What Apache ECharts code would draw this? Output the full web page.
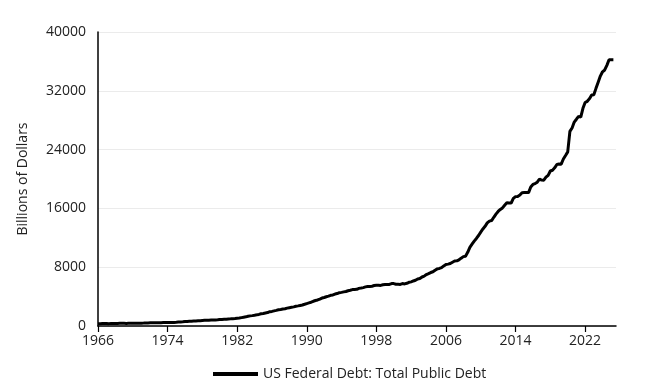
<!DOCTYPE html>
<html>
<head>
<meta charset="utf-8">
<script src="https://cdn.jsdelivr.net/npm/echarts@6/dist/echarts.min.js"></script>
<style>html,body{margin:0;padding:0;background:#fff}#c{width:650px;height:390px}</style>
</head>
<body>
<div id="c"></div>
<script>
// Quarterly data, first quarter 1966 Q1
const startYear = 1966;
const debt = [
  321, 317, 324, 329,
  330, 323, 334, 344,
  346, 347, 358, 359,
  358, 353, 361, 366,
  371, 370, 383, 389,
  391, 398, 413, 424,
  428, 427, 437, 449,
  458, 458, 465, 469,
  474, 475, 482, 492,
  509, 533, 554, 576,
  600, 620, 640, 653,
  675, 685, 709, 729,
  752, 772, 780, 797,
  816, 812, 827, 845,
  873, 884, 908, 930,
  964, 971, 998, 1029,
  1062, 1080, 1142, 1197,
  1245, 1319, 1377, 1411,
  1464, 1518, 1573, 1663,
  1710, 1774, 1823, 1946,
  1986, 2059, 2125, 2215,
  2250, 2310, 2351, 2432,
  2493, 2548, 2603, 2684,
  2740, 2800, 2857, 2953,
  3053, 3143, 3233, 3364,
  3465, 3538, 3665, 3801,
  3881, 3985, 4065, 4177,
  4230, 4352, 4411, 4535,
  4576, 4645, 4693, 4800,
  4864, 4951, 4974, 4989,
  5118, 5161, 5224, 5323,
  5381, 5376, 5413, 5503,
  5542, 5548, 5526, 5614,
  5651, 5639, 5656, 5776,
  5773, 5686, 5674, 5662,
  5773, 5727, 5807, 5943,
  6006, 6126, 6228, 6406,
  6460, 6670, 6783, 6998,
  7131, 7274, 7379, 7596,
  7776, 7836, 7933, 8170,
  8371, 8420, 8507, 8680,
  8849, 8867, 9008, 9229,
  9437, 9492, 10025, 10700,
  11127, 11545, 11910, 12311,
  12773, 13202, 13562, 14025,
  14270, 14343, 14790, 15223,
  15582, 15856, 16066, 16433,
  16771, 16738, 16738, 17352,
  17601, 17632, 17824, 18141,
  18152, 18152, 18151, 18922,
  19264, 19381, 19573, 19977,
  19847, 19845, 20245, 20493,
  21090, 21195, 21516, 21974,
  22028, 22023, 22719, 23201,
  23687, 26477, 26945, 27748,
  28133, 28529, 28429, 29617,
  30401, 30568, 30929, 31420,
  31458, 32332, 33167, 34001,
  34587, 34832, 35465, 36218,
  36215, 36214
];
const xTicks = [1966, 1974, 1982, 1990, 1998, 2006, 2014, 2022];
const yTicks = [0, 8000, 16000, 24000, 32000, 40000];
const seriesName = 'US Federal Debt: Total Public Debt';
const yName = 'Billions of Dollars';

const points = debt.map((v, i) => [startYear + i / 4, v]);
const font = '"Open Sans", sans-serif';
const chart = echarts.init(document.getElementById('c'));
chart.setOption({
  animation: false,
  backgroundColor: '#ffffff',
  grid: { left: 98, right: 34, top: 32, bottom: 64 },
  xAxis: {
    type: 'value',
    min: 1966,
    max: 2025.55,
    axisLine: { show: true, lineStyle: { color: '#000', width: 1.5 } },
    axisTick: { show: true, customValues: xTicks, length: 6, lineStyle: { color: '#000', width: 1.2 } },
    axisLabel: { customValues: xTicks, color: '#222', fontSize: 14, fontFamily: font, margin: 8, formatter: v => String(v) },
    splitLine: { show: false }
  },
  yAxis: {
    type: 'value',
    min: 0,
    max: 40000,
    interval: 8000,
    name: yName,
    nameLocation: 'middle',
    nameGap: 68,
    nameTextStyle: { color: '#222', fontSize: 14, fontFamily: font },
    axisLine: { show: true, lineStyle: { color: '#000', width: 1.5 } },
    axisTick: { show: false },
    axisLabel: { customValues: yTicks, color: '#222', fontSize: 14, fontFamily: font, margin: 12, formatter: v => String(v) },
    splitLine: { show: true, lineStyle: { color: '#ebebeb', width: 1 } }
  },
  legend: {
    bottom: 4,
    left: 208,
    icon: 'rect',
    itemWidth: 45,
    itemHeight: 4,
    itemGap: 10,
    textStyle: { color: '#222', fontSize: 14, fontFamily: font },
    data: [seriesName]
  },
  series: [{
    name: seriesName,
    type: 'line',
    data: points,
    showSymbol: false,
    symbol: 'none',
    lineStyle: { color: '#000', width: 3 },
    itemStyle: { color: '#000' }
  }]
});
</script>
</body>
</html>
